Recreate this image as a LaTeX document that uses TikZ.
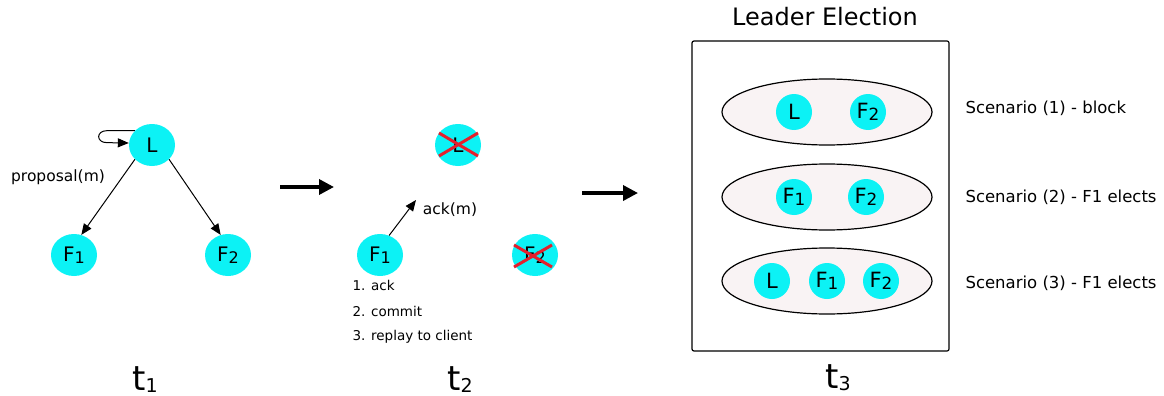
\documentclass[tikz,border=0pt]{standalone}
\usepackage{fontspec}
\setmainfont{DejaVu Sans}
\usepackage{graphicx}
\usetikzlibrary{arrows.meta,shapes.geometric}

\definecolor{nodecyan}{RGB}{12,242,245}
\definecolor{groupfill}{RGB}{249,243,244}
\definecolor{crossred}{RGB}{228,32,44}

\newcommand{\lowidx}[2][0.8]{\raisebox{-0.08em}{\scalebox{#1}{#2}}}

\tikzset{
  member/.style={ellipse, fill=nodecyan, minimum width=46, minimum height=42, inner sep=0pt,
    font=\fontsize{20}{20}\selectfont},
  voter/.style={circle, fill=nodecyan, minimum size=36, inner sep=0pt,
    font=\fontsize{21}{21}\selectfont},
  group/.style={ellipse, draw, line width=1.2, fill=groupfill, minimum width=210, minimum height=66},
  msg/.style={-{Triangle[length=11,width=9]}, line width=1},
  phase/.style={-{Triangle[length=15,width=15]}, line width=3.5},
  crossout/.style={crossred, line width=3},
  label/.style={font=\fontsize{15.5}{15.5}\selectfont},
  small/.style={font=\fontsize{13.5}{13.5}\selectfont, anchor=west},
  scenario/.style={font=\fontsize{16.5}{16.5}\selectfont, anchor=west},
  time/.style={anchor=base, font=\fontsize{34}{34}\selectfont}
}

\begin{document}
\begin{tikzpicture}[x=1pt, y=-1pt]
  \useasboundingbox (0,0) rectangle (1164,396);

  % before the crash
  \node[member] (L1)  at (152,145) {L};
  \node[member] (F11) at (74,255)  {F\lowidx{1}};
  \node[member] (F21) at (228,255) {F\lowidx{2}};
  \node[label] (prop) at (58,177) {proposal(m)};
  \draw[msg] (L1.140) -- ++(-28,0) .. controls +(-11,0) and +(-11,0) .. ++(0,12)
    -- ([yshift=2]L1.west);
  \draw[msg] (L1.-140) -- (F11.70);
  \draw[msg] (L1.-40) -- (F21.110);
  \node[time] (t1) at (145,390) {t\lowidx[0.56]{1}};

  \coordinate (a1) at (280,187);
  \coordinate (b1) at (334,187);
  \draw[phase] (a1) -- (b1);

  % leader and F2 gone
  \node[member] (L2)  at (458,145) {L};
  \node[member] (F12) at (380,255) {F\lowidx{1}};
  \node[member] (F22) at (535,255) {F\lowidx{2}};
  \draw[crossout] ([shift={(-19,-12)}]L2.center) -- ([shift={(20,11)}]L2.center);
  \draw[crossout] ([shift={(-19,11)}]L2.center) -- ([shift={(20,-12)}]L2.center);
  \draw[crossout] ([shift={(-21,-10)}]F22.center) -- ([shift={(17,12)}]F22.center);
  \draw[crossout] ([shift={(-21,12)}]F22.center) -- ([shift={(17,-10)}]F22.center);
  \coordinate (ackend) at (416,200);
  \draw[msg] (F12.65) -- (ackend);
  \node[label] (ack) at (450,210) {ack(m)};
  \node[small] (s1) at (349,285) {1. ack};
  \node[small] (s2) at (349,311) {2. commit};
  \node[small] (s3) at (349,337) {3. replay to client};
  \node[time] (t2) at (460,390) {t\lowidx[0.56]{2}};

  \coordinate (a2) at (582,193);
  \coordinate (b2) at (638,193);
  \draw[phase] (a2) -- (b2);

  % election among the survivors
  \node[font=\fontsize{24}{24}\selectfont] (title) at (825,17) {Leader Election};
  \draw[line width=1.2, rounded corners=2] (692,41) rectangle (949,351);
  \node[group] (g1) at (827,112) {};
  \node[group] (g2) at (827,197) {};
  \node[group] (g3) at (827,281) {};
  \node[voter] (gL1)  at (794,112) {L};
  \node[voter] (gF21) at (868,112) {F\lowidx{2}};
  \node[voter] (gF12) at (794,197) {F\lowidx{1}};
  \node[voter] (gF22) at (866,197) {F\lowidx{2}};
  \node[voter] (gL3)  at (772,281) {L};
  \node[voter] (gF13) at (827,281) {F\lowidx{1}};
  \node[voter] (gF23) at (881,281) {F\lowidx{2}};
  \node[scenario] (sc1) at (962,108) {Scenario (1) - block};
  \node[scenario] (sc2) at (962,197) {Scenario (2) - F1 elects};
  \node[scenario] (sc3) at (962,283) {Scenario (3) - F1 elects};
  \node[time] (t3) at (838,388) {t\lowidx[0.56]{3}};
\end{tikzpicture}
\end{document}
